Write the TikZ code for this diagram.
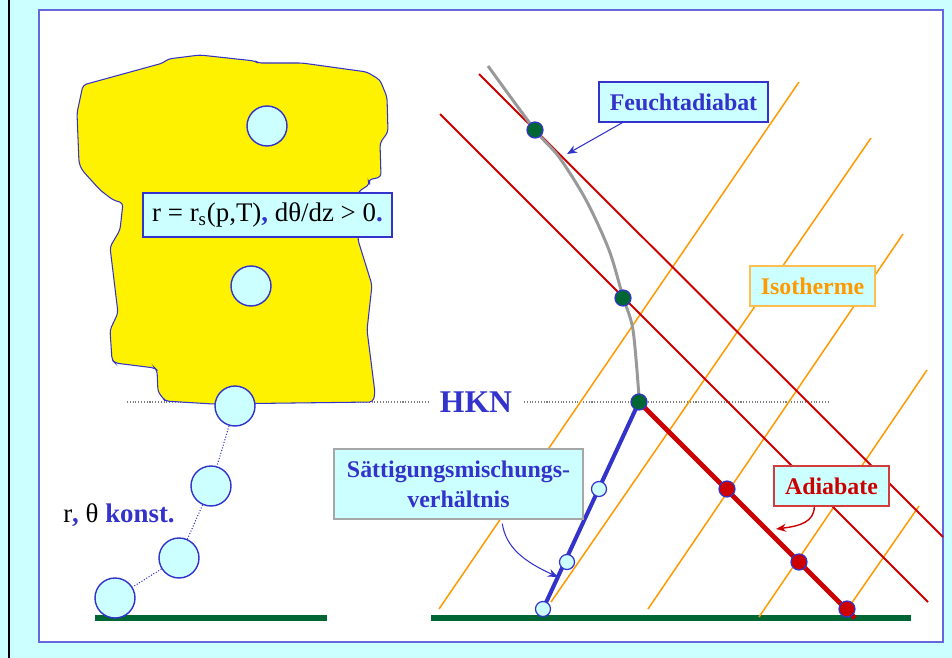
\documentclass[tikz,border=0pt]{standalone}
\usepackage{fontspec}
\setmainfont{Liberation Serif}
\usetikzlibrary{arrows.meta}

\definecolor{slidebg}{RGB}{204,255,255}
\definecolor{framebl}{RGB}{102,102,221}
\definecolor{textbl}{RGB}{51,51,204}
\definecolor{adred}{RGB}{204,0,0}
\definecolor{adborder}{RGB}{210,60,60}
\definecolor{isoorange}{RGB}{255,153,0}
\definecolor{isoborder}{RGB}{255,190,80}
\definecolor{grounddk}{RGB}{0,102,51}

\tikzset{
  parcel/.style={circle, draw=textbl, fill=slidebg, line width=0.8pt, minimum size=0.8cm, inner sep=0pt},
  pdot/.style={circle, draw=textbl, line width=0.7pt, minimum size=0.32cm, inner sep=0pt},
  labelbox/.style={fill=slidebg, line width=0.8pt, inner sep=0pt, font=\fontsize{13.6}{17}\selectfont\bfseries},
  tip/.style={-{Stealth[length=2mm,width=1.6mm]}}
}

\begin{document}
\begin{tikzpicture}[x=0.02cm, y=-0.02cm]
% Slide background and frame
\fill[slidebg] (0,0) rectangle (952,658);
\useasboundingbox (0,0) rectangle (952,658);
\draw[black, line width=1pt] (9,0) -- (9,658);
\draw[framebl, fill=white, line width=0.9pt] (39,10) rectangle (943,642);

% Condensation level (dotted)
\draw[gray, densely dotted, line width=0.6pt] (127,402) -- (430,402);
\draw[gray, densely dotted, line width=0.6pt] (524,402) -- (829,402);
\node[text=textbl, font=\fontsize{18}{20}\selectfont\bfseries] (hkn) at (476,402) {HKN};

% Ground
\draw[grounddk, line width=3.2pt] (95,618) -- (327,618);
\draw[grounddk, line width=3.2pt] (431,618) -- (911,618);

% Cloud
\draw[textbl, fill=yellow, line width=0.6pt, rounded corners=2pt]
  (83,85) -- (163,63) -- (168,59) -- (200,55) -- (255,61) -- (258,63) -- (302,63)
  -- (367,72) -- (380,80) -- (387,97) -- (388,132) -- (380,143) -- (381,177)
  -- (368,180) -- (370,184) -- (358,192) -- (358,215) -- (358,240) -- (372,285)
  -- (367,330) -- (375,393) -- (373,402) -- (213,404) -- (165,401) -- (163,398)
  -- (158,392) -- (157,370) -- (155,368) -- (115,363) -- (112,360) -- (110,330)
  -- (118,313) -- (110,247) -- (120,230) -- (123,203) -- (113,200) -- (100,190)
  -- (82,170) -- (79,163) -- (77,113) -- cycle;

% Rising parcels
\node[parcel] (pa) at (267,126) {};
\node[parcel] (pb) at (251,286) {};
\node[parcel] (base) at (235,406) {};
\node[parcel] (pc) at (211,486) {};
\node[parcel] (pd) at (179,558) {};
\node[parcel] (pe) at (115,598) {};
\draw[textbl, densely dotted, line width=0.6pt] (base) -- (pc) -- (pd) -- (pe);

\node[draw=textbl, fill=slidebg, line width=0.8pt, minimum width=4.98cm, minimum height=0.88cm,
      inner sep=0pt, font=\fontsize{15.3}{18}\selectfont] (rs) at (267.5,215)
  {r = r\textsubscript{s}(p,T){\color{textbl}\bfseries,} dθ/dz > 0{\color{textbl}\bfseries.}};
\node[anchor=base, font=\fontsize{15.3}{18}\selectfont] (konst) at (119,522)
  {r{\color{textbl}\bfseries,} θ {\color{textbl}\bfseries konst.}};

% Isotherms
\foreach \xa/\ya/\xb/\yb in {439/609/799/82, 551/602/871/138, 648/609/903/234, 759/617/927/370, 851/604/919/506}
  \draw[isoorange, line width=0.85pt] (\xa,\ya) -- (\xb,\yb);

% Dry adiabats
\draw[adred, line width=1.1pt] (479,74) -- (943,537);
\draw[adred, line width=1.1pt] (440,114) -- (928,602);

% Moist adiabat
\draw[gray!80, line width=1.7pt] plot[smooth] coordinates
  {(488,66) (535,130) (559,157) (586,200) (609,250) (623,297) (633,330) (639,397)};

% Parcel path below the cloud base
\coordinate (lcl) at (639,402);
\coordinate (sat) at (543,609);
\coordinate (gnd) at (855,618);
\draw[textbl, line width=2.3pt] (sat) -- (lcl);
\draw[adred, line width=2.8pt] (lcl) -- (gnd);

% Points on the curves
\foreach \n/\x/\y in {m1/535/130, m2/623/298, mlcl/639/402}
  \node[pdot, fill=grounddk] (\n) at (\x,\y) {};
\foreach \n/\x/\y in {a1/727/489, a2/799/562, a3/847/609}
  \node[pdot, fill=adred] (\n) at (\x,\y) {};
\foreach \n/\x/\y in {s1/543/609, s2/567/562, s3/599/489}
  \node[pdot, fill=slidebg, minimum size=0.3cm] (\n) at (\x,\y) {};

% Labels
\node[labelbox, draw=textbl, text=textbl, minimum width=3.38cm, minimum height=0.8cm] (fa) at (683.5,102) {Feuchtadiabat};
\coordinate (fatip) at (567,154);
\draw[textbl, line width=0.6pt, tip] ([xshift=0.48cm]fa.south west) -- (fatip);

\node[labelbox, draw=isoborder, text=isoorange, minimum width=2.5cm, minimum height=0.8cm] (iso) at (812.5,286) {Isotherme};

\node[labelbox, draw=adborder, text=adred, minimum width=2.3cm, minimum height=0.8cm] (ad) at (831.5,486) {Adiabate};
\coordinate (adtip) at (776,529);
\draw[adred, line width=0.8pt, tip] ([xshift=0.82cm]ad.south west) .. controls (814,522) and (800,526) .. (adtip);

\node[labelbox, draw=gray!70, text=textbl, minimum width=4.98cm, minimum height=1.4cm, align=center] (sm) at (458.5,484)
  {Sättigungsmischungs-\\verhältnis};
\coordinate (smtip) at (558,577);
\draw[textbl, line width=0.6pt, tip] ([xshift=3.38cm,yshift=-0.08cm]sm.south west) .. controls (506,548) and (525,562) .. (smtip);
\end{tikzpicture}
\end{document}
